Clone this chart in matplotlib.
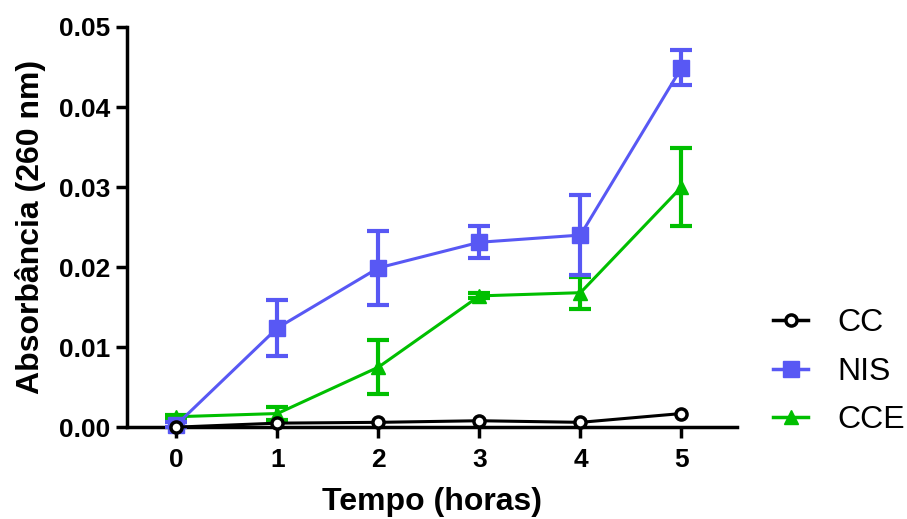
import matplotlib
matplotlib.use("Agg")
import matplotlib.pyplot as plt
from matplotlib.lines import Line2D

hours = [0, 1, 2, 3, 4, 5]
cc = [0.0000, 0.0005, 0.0006, 0.0008, 0.0006, 0.0017]
cc_err = [0, 0, 0, 0, 0, 0]
nis = [0.0003, 0.0124, 0.0199, 0.0231, 0.0240, 0.0449]
nis_err = [0.0003, 0.0035, 0.0046, 0.0020, 0.0050, 0.0022]
cce = [0.0013, 0.0017, 0.0075, 0.0164, 0.0168, 0.0300]
cce_err = [0.0002, 0.0008, 0.0034, 0.0003, 0.0020, 0.0049]
series_names = ["CC", "NIS", "CCE"]
yticks = [0.00, 0.01, 0.02, 0.03, 0.04, 0.05]

plt.rcParams['font.family'] = ['Liberation Sans', 'DejaVu Sans']

fig = plt.figure(figsize=(9.07, 5.19), dpi=100)
ax = fig.add_axes([0.14, 0.177, 0.6726, 0.771])

blue = '#5858f4'
green = '#00bf00'

ax.errorbar(hours, cce, yerr=cce_err, color=green, lw=2.2, marker='^', ms=10,
            capsize=8, capthick=3, elinewidth=3, zorder=3, clip_on=False)
ax.errorbar(hours, nis, yerr=nis_err, color=blue, lw=2.2, marker='s', ms=11,
            capsize=8, capthick=3, elinewidth=3, zorder=4, clip_on=False)
ax.errorbar(hours, cc, yerr=cc_err, color='black', lw=2.2, marker='o', ms=8,
            mfc='white', mew=2.5, capsize=0, zorder=5, clip_on=False)

ax.set_xlim(-0.49, 5.55)
ax.set_ylim(0, 0.05)
ax.set_xticks(hours)
ax.set_yticks(yticks)
ax.set_yticklabels([f"{v:.2f}" for v in yticks])
for s in ['top', 'right']:
    ax.spines[s].set_visible(False)
for s in ['left', 'bottom']:
    ax.spines[s].set_linewidth(2.5)
ax.tick_params(width=2.5, length=8, labelsize=19, pad=4)
ax.tick_params(axis='x', pad=7)
for lab in ax.get_xticklabels() + ax.get_yticklabels():
    lab.set_fontweight('bold')

ax.set_xlabel("Tempo (horas)", fontsize=23, fontweight='bold', labelpad=11)
ax.set_ylabel("Absorbância (260 nm)", fontsize=23, fontweight='bold', labelpad=9)

handles = [
    Line2D([], [], color='black', lw=2.5, marker='o', ms=8, mfc='white', mew=2.5),
    Line2D([], [], color=blue, lw=2.5, marker='s', ms=11),
    Line2D([], [], color=green, lw=2.5, marker='^', ms=10),
]
leg = ax.legend(handles, series_names, loc='center left',
                bbox_to_anchor=(1.012, 0.138), frameon=False, fontsize=23,
                handlelength=1.1, handletextpad=0.9, labelspacing=0.58)

fig.savefig("out.png", dpi=100)
